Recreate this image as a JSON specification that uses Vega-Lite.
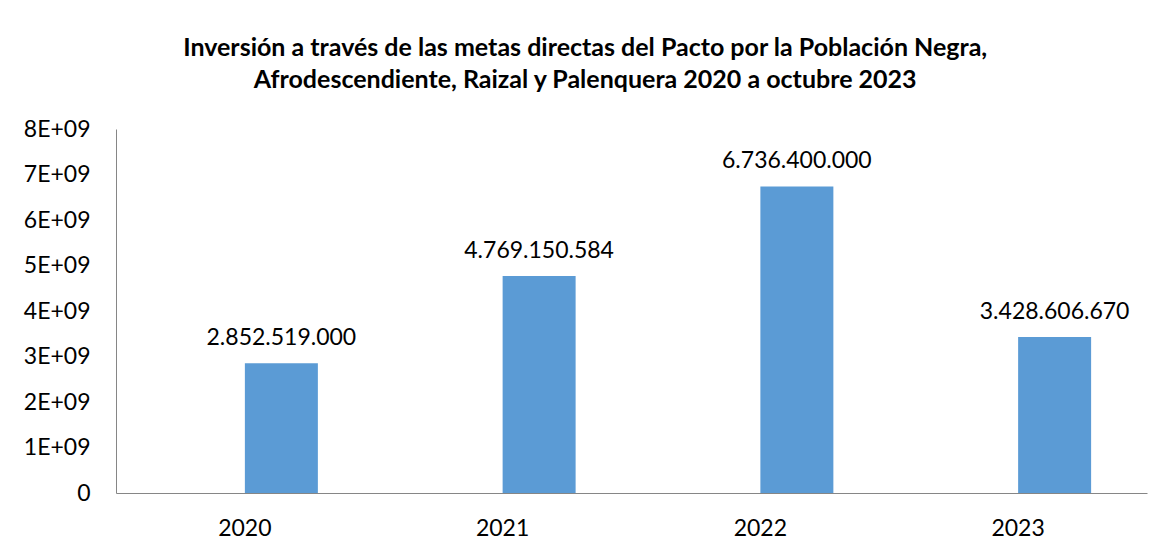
{
  "$schema": "https://vega.github.io/schema/vega-lite/v6.json",
  "width": 1031,
  "height": 364,
  "autosize": {"type": "none"},
  "padding": {"left": 116, "top": 129, "right": 20, "bottom": 62},
  "background": "white",
  "config": {
    "view": {"stroke": null},
    "font": "Lato",
    "locale": {"number": {"decimal": ",", "thousands": ".", "grouping": [3], "currency": ["$", ""]}}
  },
  "title": {
    "text": ["Inversión a través de las metas directas del Pacto por la Población Negra,", "Afrodescendiente, Raizal y Palenquera 2020 a octubre 2023"],
    "font": "Lato",
    "fontSize": 25,
    "fontWeight": "bold",
    "color": "#000000",
    "anchor": "middle",
    "frame": "bounds",
    "lineHeight": 32,
    "offset": 25
  },
  "data": {
    "values": [
      {"year": "2020", "series": "Inversión", "value": 2852519000},
      {"year": "2021", "series": "Inversión", "value": 4769150584},
      {"year": "2022", "series": "Inversión", "value": 6736400000},
      {"year": "2023", "series": "Inversión", "value": 3428606670}
    ]
  },
  "encoding": {
    "x": {
      "field": "year", "type": "nominal",
      "scale": {"paddingInner": 0.4336, "paddingOuter": 0.2168},
      "axis": {"title": null, "labelAngle": 0, "ticks": false, "labelFontSize": 23, "labelColor": "#000000", "labelPadding": 24, "domainColor": "#868686", "domainWidth": 1, "labelFont": "Lato"}
    },
    "xOffset": {
      "field": "series", "type": "nominal",
      "scale": {"domain": ["vacío", "Inversión"], "paddingInner": 0, "paddingOuter": 0}
    },
    "y": {
      "field": "value", "type": "quantitative",
      "scale": {"domain": [0, 8000000000], "nice": false},
      "axis": {"title": null, "grid": false, "ticks": false, "labelOverlap": false, "values": [0,1000000000,2000000000,3000000000,4000000000,5000000000,6000000000,7000000000,8000000000], "labelExpr": "datum.value == 0 ? '0' : (datum.value/1000000000) + 'E+09'", "labelFontSize": 23, "labelColor": "#000000", "labelPadding": 26, "domainColor": "#868686", "labelFont": "Lato"}
    }
  },
  "layer": [
    {"mark": {"type": "bar", "color": "#5B9BD5"}},
    {
      "mark": {"type": "text", "baseline": "alphabetic", "dy": -18, "fontSize": 23, "color": "#000000", "font": "Lato"},
      "encoding": {"text": {"field": "value", "type": "quantitative", "format": ",d"}}
    }
  ]
}
